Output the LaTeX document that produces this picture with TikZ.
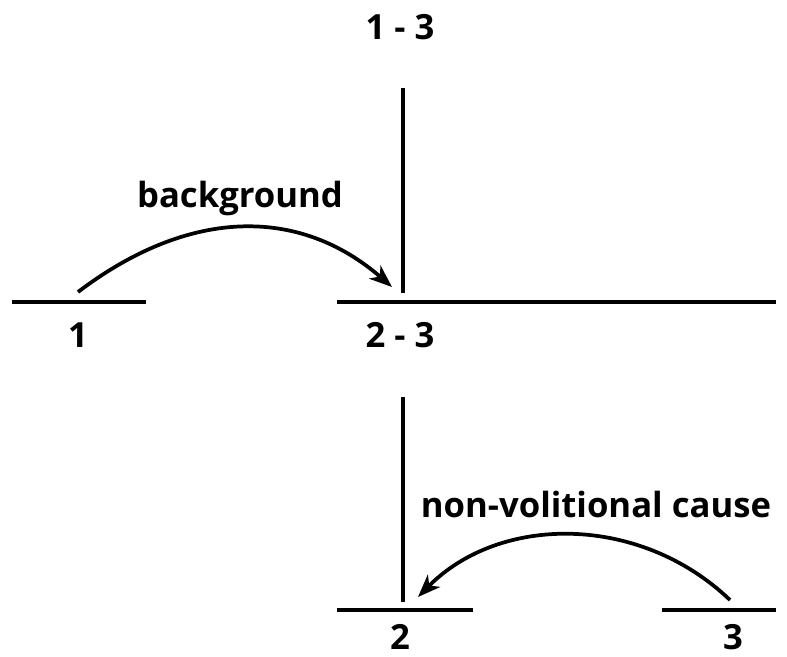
\documentclass[tikz,border=0pt]{standalone}
\usepackage{fontspec}
\setmainfont{Open Sans}
\usetikzlibrary{arrows.meta}

\tikzset{
  lbl/.style={font=\fontsize{26}{30}\selectfont\bfseries, inner sep=0pt},
  bar/.style={line width=2.8pt},
  rel/.style={line width=2.8pt, -{Stealth[length=17pt, width=13pt, inset=5pt]}}
}

\begin{document}
\begin{tikzpicture}[x=0.75pt, y=0.75pt]
    \useasboundingbox (0,0) rectangle (787,656);

    % upper tier
    \node[lbl] (top13) at (400,629) {1 - 3};
    \node[lbl] (lab1) at (78,321) {1};
    \node[lbl] (lab23) at (400,321) {2 - 3};
    \node[lbl] (bg) at (240,457) {background};

    \coordinate (v1a) at (403,568);
    \coordinate (v1b) at (403,363);
    \coordinate (h1a) at (12,354);
    \coordinate (h1b) at (146,354);
    \coordinate (h23a) at (337,354);
    \coordinate (h23b) at (776,354);
    \coordinate (from1) at (78,364);
    \coordinate (to23) at (392,369);

    \draw[bar] (v1a) -- (v1b);
    \draw[bar] (h1a) -- (h1b);
    \draw[bar] (h23a) -- (h23b);
    \draw[rel] (from1) .. controls (190,449) and (300,449) .. (to23);

    % lower tier
    \node[lbl] (lab2) at (400,19) {2};
    \node[lbl] (lab3) at (733,19) {3};
    \node[lbl] (nvc) at (596,151) {non-volitional cause};

    \coordinate (v2a) at (403,259);
    \coordinate (v2b) at (403,54);
    \coordinate (h2a) at (337,46);
    \coordinate (h2b) at (473,46);
    \coordinate (h3a) at (662,46);
    \coordinate (h3b) at (776,46);
    \coordinate (from3) at (730,56);
    \coordinate (to2) at (418,59);

    \draw[bar] (v2a) -- (v2b);
    \draw[bar] (h2a) -- (h2b);
    \draw[bar] (h3a) -- (h3b);
    \draw[rel] (from3) .. controls (640,142) and (500,142) .. (to2);
\end{tikzpicture}
\end{document}
